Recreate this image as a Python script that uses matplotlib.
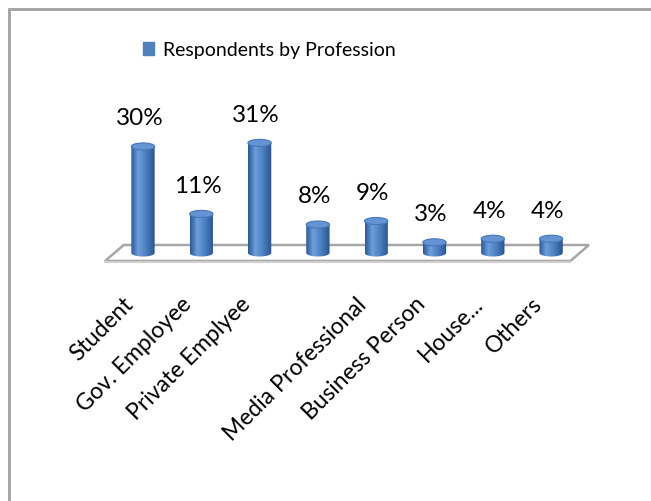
import numpy as np
import matplotlib
matplotlib.use("Agg")
import matplotlib.pyplot as plt
from matplotlib.patches import Polygon, Ellipse, Patch, Rectangle
from matplotlib.colors import LinearSegmentedColormap

categories = ["Student", "Gov. Employee", "Private Emplyee", "",
              "Media Professional", "Business Person", "House...", "Others"]
values = [30, 11, 31, 8, 9, 3, 4, 4]
value_labels = ["30%", "11%", "31%", "8%", "9%", "3%", "4%", "4%"]
series_name = "Respondents by Profession"

BLUE = "#4F81BD"
shade = LinearSegmentedColormap.from_list(
    "cyl", [(0.0, "#2B5797"), (0.3, "#6E9EDB"), (0.6, "#4F82C4"), (1.0, "#2A5390")])

plt.rcParams["font.family"] = ["Lato", "DejaVu Sans"]

fig = plt.figure(figsize=(6.51, 5.01), dpi=100)
ax = fig.add_axes([0.1301, 0.4242, 0.806, 0.3685])
ax.set_axis_off()

n = len(values)
half_w = 0.2      # cylinder radius in category units
cap_h = 1.0       # half height of the elliptical caps, in value units
depth = 2.25      # half depth of the floor, in value units
skew = 0.32       # perspective shift of the back edge

# floor slab
floor = Polygon([(-0.65, -depth), (n - 1 + 0.33, -depth),
                 (n - 1 + 0.33 + skew, depth), (-0.65 + skew, depth)],
                closed=True, facecolor="white", edgecolor="#A6A6A6", lw=1.8, zorder=1)
ax.add_patch(floor)
ax.plot([-0.65, n - 1 + 0.33], [-depth - 0.4, -depth - 0.4], color="#CFCFCF", lw=1.5, zorder=1)

grad = np.linspace(0, 1, 64).reshape(1, -1)
t = np.linspace(np.pi, 2 * np.pi, 40)
for i, v in enumerate(values):
    # cylinder body: sides plus lower half of the base ellipse
    arc_x = i + half_w * np.cos(t)
    arc_y = cap_h * np.sin(t)
    pts = [(i - half_w, v)] + list(zip(arc_x, arc_y)) + [(i + half_w, v)]
    body = Polygon(pts, closed=True, facecolor="none", edgecolor="none")
    ax.add_patch(body)
    im = ax.imshow(grad, cmap=shade, aspect="auto", interpolation="bilinear",
                   extent=[i - half_w, i + half_w, -cap_h, v], zorder=2)
    im.set_clip_path(body)
    top = Ellipse((i, v), 2 * half_w, 2 * cap_h, facecolor="#6594D3",
                  edgecolor="#4677BB", lw=0.8, zorder=3)
    ax.add_patch(top)
    ax.text(i - 0.06, v + 7.8, value_labels[i], ha="center", va="center",
            fontsize=17.5, color="black", zorder=4)
    if categories[i]:
        ax.text(i - 0.22, -13.6, categories[i], ha="right", va="center",
                rotation=45, rotation_mode="anchor", fontsize=16.5, color="black")

ax.set_xlim(-1, 8)
ax.set_ylim(-10, 42)

# chart area border
fig.patches.append(Rectangle((9 / 651, -0.1), 1.2, 1 - 9 / 501 + 0.1,
                             transform=fig.transFigure, fill=False,
                             edgecolor="#A0A0A0", lw=2))

fig.legend(handles=[Patch(facecolor=BLUE, edgecolor=BLUE)], labels=[series_name],
           loc="center", bbox_to_anchor=(0.414, 0.90), frameon=False,
           handlelength=0.55, handleheight=0.65, handletextpad=0.45, fontsize=14)

fig.savefig("out.png", dpi=100)
